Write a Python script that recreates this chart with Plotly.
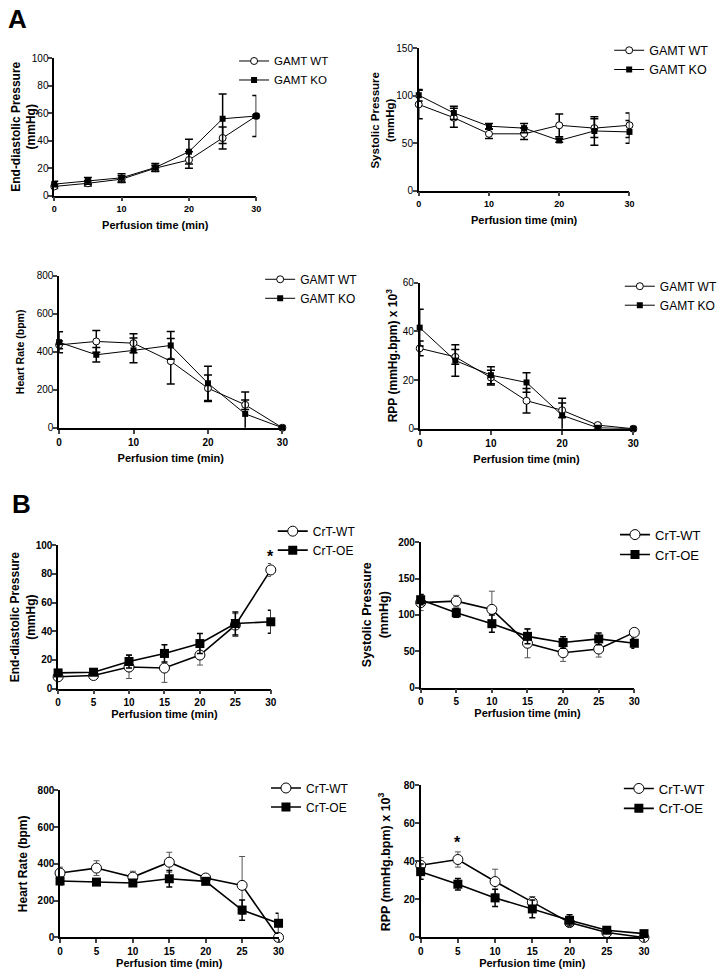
import plotly.graph_objects as go

W, H = 723, 980

times = [0, 5, 10, 15, 20, 25, 30]

# ---- Panel A (GAMT) ----
gamt_names = ["GAMT WT", "GAMT KO"]

a_edp_wt = [6.7, 9.0, 12.0, 20.0, 26.0, 42.0, 58.0]
a_edp_wt_err = [1.5, 2.0, 2.5, 2.0, 6.0, 8.0, 15.0]
a_edp_ko = [8.4, 10.8, 13.0, 20.5, 32.0, 56.0, 58.0]
a_edp_ko_err = [2.0, 2.5, 3.0, 3.0, 9.0, 18.0, 1.0]

a_sys_wt = [91, 77, 60, 60, 69, 66, 69]
a_sys_wt_err = [15, 10, 5, 6, 12, 10, 13]
a_sys_ko = [100.7, 82, 68, 66, 53, 63, 62]
a_sys_ko_err = [6, 7, 3, 5, 2, 15, 12]

a_hr_wt = [436, 454, 445, 350, 208, 121, 0]
a_hr_wt_err = [20, 57, 50, 120, 70, 25, 0]
a_hr_ko = [450, 384, 407, 433, 234, 73, 0]
a_hr_ko_err = [55, 38, 65, 73, 90, 115, 0]

a_rpp_wt = [33.0, 29.5, 21.0, 11.5, 7.6, 1.5, 0.0]
a_rpp_wt_err = [3.0, 3.0, 3.0, 5.0, 3.0, 0.5, 0.0]
a_rpp_ko = [41.5, 28.0, 22.0, 19.0, 5.5, 0.4, 0.0]
a_rpp_ko_err = [7.5, 6.5, 3.5, 4.0, 7.0, 0.5, 0.0]

# ---- Panel B (CrT) ----
crt_names = ["CrT-WT", "CrT-OE"]

b_edp_wt = [8.2, 9.1, 15.0, 14.3, 23.4, 44.3, 82.8]
b_edp_wt_err = [1.5, 1.0, 8.0, 10.0, 7.0, 8.0, 4.5]
b_edp_oe = [10.9, 11.4, 18.9, 24.5, 31.4, 45.4, 46.6]
b_edp_oe_err = [1.5, 1.5, 4.5, 6.0, 7.0, 8.0, 8.0]

b_sys_wt = [117, 119, 107.7, 61, 48, 53, 76]
b_sys_wt_err = [11, 8, 25, 20, 12, 11, 5]
b_sys_oe = [121, 103, 88, 70.5, 62, 67, 61]
b_sys_oe_err = [7, 6, 12, 10, 8, 8, 7]

b_hr_wt = [350, 377, 328, 409, 323, 283, 0]
b_hr_wt_err = [32, 40, 32, 54, 10, 157, 0]
b_hr_oe = [307, 301, 296, 319, 305, 149, 77]
b_hr_oe_err = [20, 10, 10, 45, 10, 55, 54]

b_rpp_wt = [38.0, 41.0, 29.4, 18.5, 7.8, 2.6, 0.0]
b_rpp_wt_err = [4.0, 4.0, 6.5, 3.0, 2.0, 1.0, 0.0]
b_rpp_oe = [34.6, 28.0, 20.8, 15.0, 9.0, 3.8, 2.0]
b_rpp_oe_err = [4.0, 3.0, 4.5, 4.7, 3.0, 1.0, 0.5]

# significance marks (x, y in data units)
b_edp_star = (30, 92)
b_rpp_star = (5, 50)

FONT = "Arial, Liberation Sans, sans-serif"

# panel layout in pixels: plot x range, plot y range (top, bottom),
# y-title x centre + size, legend x/y + font size
panels = [
    dict(x=(53, 262), y=(53, 192), yr=100, yd=20, xd=10, title="End-diastolic Pressure<br>(mmHg)",
         names=gamt_names, wt=(a_edp_wt, a_edp_wt_err), ko=(a_edp_ko, a_edp_ko_err),
         style="A", tx=21.5, ts=12, leg=(239, 41), ls=11.5),
    dict(x=(430, 648), y=(43, 187), yr=150, yd=50, xd=10, title="Systolic Pressure<br>(mmHg)",
         names=gamt_names, wt=(a_sys_wt, a_sys_wt_err), ko=(a_sys_ko, a_sys_ko_err),
         style="A", tx=393, ts=11.5, leg=(627, 30), ls=12.5),
    dict(x=(58, 289), y=(273, 427), yr=800, yd=200, xd=10, title="Heart Rate (bpm)",
         names=gamt_names, wt=(a_hr_wt, a_hr_wt_err), ko=(a_hr_ko, a_hr_ko_err),
         style="A", tx=17, ts=10.5, leg=(266, 262), ls=12),
    dict(x=(431, 652), y=(280, 428), yr=60, yd=20, xd=10, title="RPP (mmHg.bpm) x 10<sup>3</sup>",
         names=gamt_names, wt=(a_rpp_wt, a_rpp_wt_err), ko=(a_rpp_ko, a_rpp_ko_err),
         style="A", tx=402, ts=12, leg=(638, 269), ls=12),
    dict(x=(57, 277), y=(546, 691), yr=100, yd=20, xd=5, title="End-diastolic Pressure<br>(mmHg)",
         names=crt_names, wt=(b_edp_wt, b_edp_wt_err), ko=(b_edp_oe, b_edp_oe_err),
         style="B", tx=21, ts=12, leg=(279, 517), ls=12),
    dict(x=(432, 653), y=(543, 690), yr=200, yd=50, xd=5, title="Systolic Pressure<br>(mmHg)",
         names=crt_names, wt=(b_sys_wt, b_sys_wt_err), ko=(b_sys_oe, b_sys_oe_err),
         style="B", tx=385, ts=12.5, leg=(633, 520), ls=13),
    dict(x=(59, 285), y=(794, 943), yr=800, yd=200, xd=5, title="Heart Rate (bpm)",
         names=crt_names, wt=(b_hr_wt, b_hr_wt_err), ko=(b_hr_oe, b_hr_oe_err),
         style="B", tx=21, ts=12, leg=(272, 777), ls=12),
    dict(x=(432, 663), y=(789, 943), yr=80, yd=20, xd=5, title="RPP (mmHg.bpm) x 10<sup>3</sup>",
         names=crt_names, wt=(b_rpp_wt, b_rpp_wt_err), ko=(b_rpp_oe, b_rpp_oe_err),
         style="B", tx=395, ts=12.5, leg=(637, 777), ls=13),
]

fig = go.Figure()
layout = dict(
    width=W, height=H, margin=dict(l=0, r=0, t=0, b=0),
    paper_bgcolor="white", plot_bgcolor="white",
    font=dict(family=FONT, color="black"),
    showlegend=True,
)
annotations = []

for i, p in enumerate(panels, start=1):
    sfx = "" if i == 1 else str(i)
    xa, ya = "x" + sfx, "y" + sfx
    leg = "legend" if i == 1 else "legend" + str(i)
    A = p["style"] == "A"
    msize_c, msize_s = (7, 6) if A else (10, 9)
    lw = 1 if A else 1.6
    wt_err_col = "black" if A else "#555555"
    wt_err_w = 1.5 if A else 1

    fig.add_trace(go.Scatter(
        x=times, y=p["wt"][0], name=p["names"][0], mode="lines+markers",
        xaxis=xa, yaxis=ya, legend=leg, cliponaxis=False,
        line=dict(color="black", width=lw),
        marker=dict(symbol="circle", size=msize_c, color="white", line=dict(color="black", width=1)),
        error_y=dict(type="data", array=p["wt"][1], color=wt_err_col, thickness=wt_err_w,
                     width=4 if A else 3),
    ))
    fig.add_trace(go.Scatter(
        x=times, y=p["ko"][0], name=p["names"][1], mode="lines+markers",
        xaxis=xa, yaxis=ya, legend=leg, cliponaxis=False,
        line=dict(color="black", width=lw),
        marker=dict(symbol="square", size=msize_s, color="black"),
        error_y=dict(type="data", array=p["ko"][1], color="black", thickness=1.5,
                     width=4 if A else 3),
    ))

    x0, x1 = p["x"]
    yt, yb = p["y"]
    xtick_font = dict(family=FONT, size=9 if i <= 2 else 10, weight="bold")
    ytick_font = dict(family=FONT, size=10, weight="normal" if A else "bold")
    layout["xaxis" + sfx] = dict(
        domain=[x0 / W, x1 / W], anchor=ya, range=[0, 30], dtick=p["xd"], tick0=0,
        showline=True, linecolor="black", linewidth=1.5, ticks="outside", ticklen=4,
        tickwidth=1.5, showgrid=False, zeroline=False, tickfont=xtick_font,
        title=dict(text="Perfusion time (min)", font=dict(family=FONT, size=11, weight="bold"),
                   standoff=8 if A else 3),
        fixedrange=True,
    )
    layout["yaxis" + sfx] = dict(
        domain=[1 - yb / H, 1 - yt / H], anchor=xa, range=[0, p["yr"]], dtick=p["yd"], tick0=0,
        showline=True, linecolor="black", linewidth=1.5, ticks="outside", ticklen=4,
        tickwidth=1.5, showgrid=False, zeroline=False, tickfont=ytick_font,
        ticklabelstandoff=-2, fixedrange=True,
    )
    # y-axis title placed as rotated text beside the axis
    annotations.append(dict(
        text="<b>" + p["title"].replace("<br>", "</b><br><b>") + "</b>",
        x=p["tx"] / W, y=1 - (yt + yb) / 2 / H, xref="paper", yref="paper",
        xanchor="center", yanchor="middle", textangle=-90, showarrow=False,
        font=dict(family=FONT, size=p["ts"]),
    ))
    layout[leg] = dict(
        x=p["leg"][0] / W, y=1 - p["leg"][1] / H, xanchor="left", yanchor="top",
        bgcolor="rgba(0,0,0,0)", font=dict(family=FONT, size=p["ls"]), itemwidth=30,
        tracegroupgap=0,
    )

annotations += [
    dict(text="<b>A</b>", x=3 / W, y=1 - 13 / H, xref="paper", yref="paper",
         xanchor="left", yanchor="middle", showarrow=False, font=dict(family=FONT, size=26)),
    dict(text="<b>B</b>", x=7 / W, y=1 - 504 / H, xref="paper", yref="paper",
         xanchor="left", yanchor="middle", showarrow=False, font=dict(family=FONT, size=26)),
    dict(text="<b>*</b>", x=b_edp_star[0], y=b_edp_star[1], xref="x5", yref="y5",
         showarrow=False, font=dict(family=FONT, size=16)),
    dict(text="<b>*</b>", x=b_rpp_star[0], y=b_rpp_star[1], xref="x8", yref="y8",
         showarrow=False, font=dict(family=FONT, size=16)),
]
layout["annotations"] = annotations

fig.update_layout(**layout)
# no page margin or scrollbars, so the figure fills the window exactly
page_fix = ("document.body.style.margin='0';"
            "document.body.style.overflow='hidden';"
            "document.documentElement.style.overflow='hidden';")
fig.write_html("out.html", config={"displayModeBar": False}, post_script=page_fix)
